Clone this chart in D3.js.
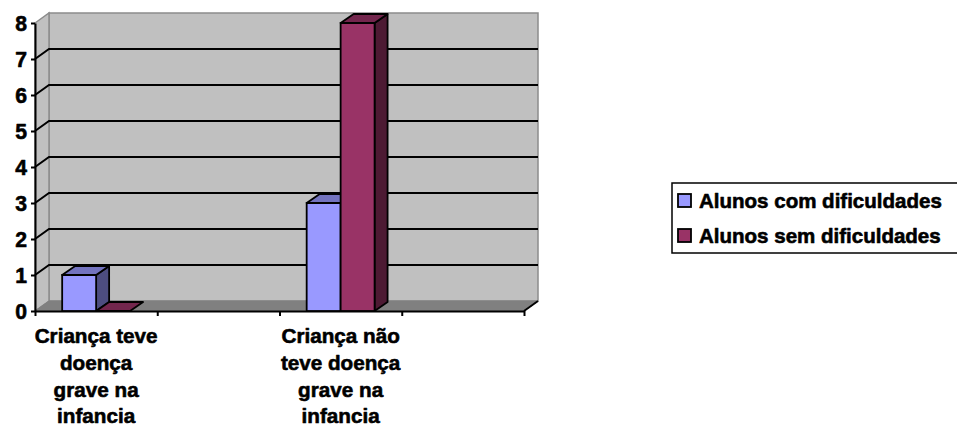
<!DOCTYPE html>
<html>
<head>
<meta charset="utf-8">
<script src="https://cdn.jsdelivr.net/npm/d3@7"></script>
<style>
  html, body { margin: 0; padding: 0; background: #fff; }
  svg { display: block; }
</style>
</head>
<body>
<div id="chart"></div>
<script>
// ---- data ----
const categories = [
  "Criança teve doença grave na infancia",
  "",
  "Criança não teve doença grave na infancia",
  ""
];
const categoryLabelLines = [
  ["Criança teve", "doença", "grave na", "infancia"],
  [],
  ["Criança não", "teve doença", "grave na", "infancia"],
  []
];
const seriesNames = ["Alunos com dificuldades", "Alunos sem dificuldades"];
const comDificuldades = [1, null, 3, null];
const semDificuldades = [0, null, 8, null];
const yTicks = [0, 1, 2, 3, 4, 5, 6, 7, 8];

(function () {
const W = 957, H = 429;
const colors = {
  front: ["#9999FF", "#993366"],
  top:   ["#7373BF", "#73264D"],
  side:  ["#4D4D80", "#4D1A33"]
};
const DX = 14, DY = -10;
const BDX = 13, BDY = -9;
const FS = 21;
const FONT = "Liberation Sans";

const svg = d3.select("#chart").append("svg").attr("width", W).attr("height", H);

function rawMeasure(str, size, weight) {
  const t = svg.append("text").text(str)
    .style("font-family", FONT).style("font-weight", weight).style("font-size", size + "px");
  const w = t.node().getComputedTextLength();
  t.remove();
  return w;
}
const hasBold = Math.abs(rawMeasure("Criança teve", FS, "700") - rawMeasure("Criança teve", FS, "400")) > 2;
const thicken = hasBold ? 0.6 : 0.9;

function styleText(sel, size) {
  return sel.style("font-family", FONT).style("font-weight", "700")
    .style("font-size", size + "px").attr("fill", "#000")
    .attr("stroke", "#000").attr("stroke-width", thicken).attr("stroke-linejoin", "round");
}
const sxCat = Math.min(1.05, 123 / rawMeasure("Criança teve", FS, "700"));
const sxLeg = Math.min(1.05, 243 / rawMeasure("Alunos com dificuldades", 20.5, "700"));

const pLeft = 35, pRight = 524, pBottom = 311, pTop = 23;
const x = d3.scaleBand().domain(d3.range(categories.length)).range([pLeft, pRight]);
const xInner = d3.scaleBand().domain(seriesNames).range([0, x.bandwidth()]).paddingOuter(0.8).paddingInner(0);
const xb = d3.scaleLinear().domain([0, categories.length]).range([pLeft, pRight]);
const y = d3.scaleLinear().domain([0, 8]).range([pBottom, pTop]);
const pts = a => a.map(p => p.join(",")).join(" ");

// back wall
svg.append("rect")
  .attr("x", pLeft + DX).attr("y", y(8) + DY)
  .attr("width", pRight - pLeft).attr("height", y(0) - y(8))
  .attr("fill", "#C0C0C0").attr("stroke", "#8C8C8C").attr("stroke-width", 1.5);
// side wall
svg.append("polygon")
  .attr("points", pts([[pLeft, y(8)], [pLeft + DX, y(8) + DY], [pLeft + DX, y(0) + DY], [pLeft, y(0)]]))
  .attr("fill", "#C0C0C0").attr("stroke", "#8C8C8C").attr("stroke-width", 1.5);
// floor
svg.append("polygon")
  .attr("points", pts([[pLeft, y(0)], [pRight, y(0)], [pRight + DX, y(0) + DY], [pLeft + DX, y(0) + DY]]))
  .attr("fill", "#808080").attr("stroke", "#808080").attr("stroke-width", 1);
// gridlines
const gridVals = yTicks.filter(v => v > 0 && v < 8);
svg.append("g").selectAll("polyline").data(gridVals).join("polyline")
  .attr("points", v => pts([[pLeft, y(v)], [pLeft + DX, y(v) + DY], [pRight + DX, y(v) + DY]]))
  .attr("fill", "none").attr("stroke", "#000").attr("stroke-width", 2);
// floor right edge
svg.append("line")
  .attr("x1", pRight).attr("y1", y(0)).attr("x2", pRight + DX).attr("y2", y(0) + DY)
  .attr("stroke", "#000").attr("stroke-width", 2);

// y axis
const yAxis = svg.append("g").attr("transform", `translate(${pLeft},0)`)
  .call(d3.axisLeft(y).tickValues(yTicks).tickFormat(d3.format("d")).tickSize(4).tickSizeOuter(0).tickPadding(4));
yAxis.attr("font-family", null).attr("font-size", null);
yAxis.selectAll("path.domain").attr("stroke", "#000").attr("stroke-width", 2);
yAxis.selectAll(".tick line").attr("stroke", "#000").attr("stroke-width", 2);
styleText(yAxis.selectAll(".tick text"), 21.5)
  .attr("x", -8 / sxCat).attr("dy", "0.36em")
  .attr("transform", `scale(${sxCat},1)`);

// x axis
const xAxis = svg.append("g").attr("transform", `translate(0,${pBottom})`)
  .call(d3.axisBottom(xb).tickValues(d3.range(categories.length + 1)).tickFormat("").tickSize(5).tickSizeOuter(0));
xAxis.selectAll("path.domain").attr("stroke", "#000").attr("stroke-width", 2);
xAxis.selectAll(".tick line").attr("stroke", "#000").attr("stroke-width", 2);

// category labels
const lineBase = [343, 370, 397, 423];
categoryLabelLines.forEach((lines, i) => {
  const cx = x(i) + x.bandwidth() / 2;
  lines.forEach((ln, j) => {
    styleText(svg.append("text"), FS)
      .attr("transform", `translate(${cx},${lineBase[j]}) scale(${sxCat},1)`)
      .attr("text-anchor", "middle")
      .text(ln);
  });
});

// bars
const seriesValues = [comDificuldades, semDificuldades];
const barsG = svg.append("g");
categories.forEach((c, i) => {
  seriesValues.forEach((vals, s) => {
    const v = vals[i];
    if (v === null || v === undefined) return;
    const x0 = x(i) + xInner(seriesNames[s]);
    const w = xInner.bandwidth();
    const yt = y(v), yb = y(0);
    const g = barsG.append("g");
    if (v > 0) {
      g.append("polygon")
        .attr("points", pts([[x0 + w, yt], [x0 + w + BDX, yt + BDY], [x0 + w + BDX, yb + BDY], [x0 + w, yb]]))
        .attr("fill", colors.side[s]).attr("stroke", "#000").attr("stroke-width", 1.8).attr("stroke-linejoin", "round");
      g.append("rect")
        .attr("x", x0).attr("y", yt).attr("width", w).attr("height", yb - yt)
        .attr("fill", colors.front[s]).attr("stroke", "#000").attr("stroke-width", 1.8);
    }
    g.append("polygon")
      .attr("points", pts([[x0, yt], [x0 + w, yt], [x0 + w + BDX, yt + BDY], [x0 + BDX, yt + BDY]]))
      .attr("fill", colors.top[s]).attr("stroke", "#000").attr("stroke-width", 1.8).attr("stroke-linejoin", "round");
  });
});

// legend
const lg = svg.append("g");
lg.append("rect").attr("x", 672).attr("y", 183).attr("width", 320).attr("height", 70)
  .attr("fill", "#fff").attr("stroke", "#000").attr("stroke-width", 1.5);
seriesNames.forEach((name, s) => {
  const yy = 194 + s * 35;
  lg.append("rect").attr("x", 678).attr("y", yy).attr("width", 13).attr("height", 13)
    .attr("fill", colors.front[s]).attr("stroke", "#000").attr("stroke-width", 1.8);
  styleText(lg.append("text"), 20.5)
    .attr("transform", `translate(699,${yy + 13.5}) scale(${sxLeg},1)`)
    .text(name);
});
})();
</script>
</body>
</html>
